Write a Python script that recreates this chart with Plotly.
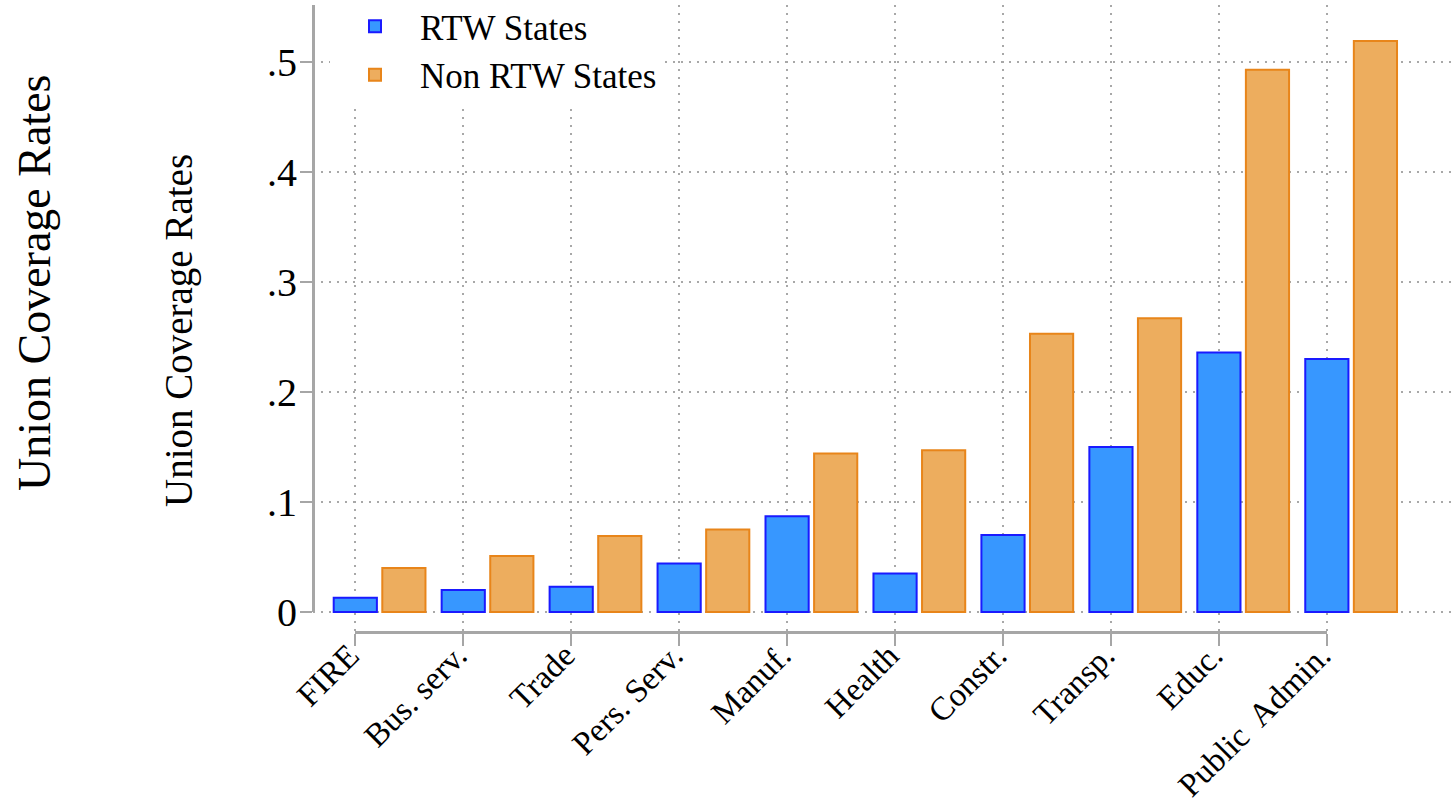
import plotly.graph_objects as go

categories = ["FIRE", "Bus. serv.", "Trade", "Pers. Serv.", "Manuf.", "Health",
              "Constr.", "Transp.", "Educ.", "Public\u00a0 Admin."]
rtw_states = [0.013, 0.020, 0.023, 0.044, 0.087, 0.035, 0.070, 0.150, 0.236, 0.230]
non_rtw_states = [0.040, 0.051, 0.069, 0.075, 0.144, 0.147, 0.253, 0.267, 0.493, 0.519]
y_tickvals = [0, 0.1, 0.2, 0.3, 0.4, 0.5]
y_ticktext = ["0", ".1", ".2", ".3", ".4", ".5"]

idx = list(range(len(categories)))
FONT = "Liberation Serif, Times New Roman, serif"

W, H = 1451, 805
L, R, T, B = 313, 0, 5, 173
plot_w = W - L - R
plot_h = H - T - B
px_per_unit_y = 1100.0
px_per_cat = 107.95
x_lo = -(355.3 - L) / px_per_cat
x_hi = x_lo + plot_w / px_per_cat
y_lo = -(632 - 612) / px_per_unit_y
y_hi = y_lo + plot_h / px_per_unit_y

fig = go.Figure()
fig.add_trace(go.Bar(
    x=idx, y=rtw_states, name="RTW States",
    width=0.4, offset=-0.2,
    marker=dict(color="#3797FF", line=dict(color="#1a1aff", width=2)),
))
fig.add_trace(go.Bar(
    x=idx, y=non_rtw_states, name="Non RTW States",
    width=0.4, offset=0.25,
    marker=dict(color="#EDAD5E", line=dict(color="#E8851A", width=2)),
))
# empty trace to host the secondary (label/line) axes
fig.add_trace(go.Scatter(x=[], y=[], xaxis="x2", yaxis="y2", showlegend=False,
                         hoverinfo="skip"))

grid_col = "#a8a8a8"
axis_col = "#a6a6a6"

x2_d0 = (355.3 - L) / plot_w
x2_d1 = x2_d0 + 9 * px_per_cat / plot_w
y2_d0 = (632 - 612) / plot_h

fig.update_layout(
    width=W, height=H,
    margin=dict(l=L, r=R, t=T, b=B, pad=0, autoexpand=False),
    paper_bgcolor="white", plot_bgcolor="rgba(0,0,0,0)",
    barmode="overlay",
    hovermode=False,
    font=dict(family=FONT, color="black"),
    showlegend=True,
    legend=dict(x=(330 - L) / plot_w, y=1.0 + 8 / plot_h, xanchor="left", yanchor="top",
                bgcolor="white", font=dict(size=35, family=FONT),
                itemwidth=80, traceorder="normal"),
    xaxis=dict(range=[x_lo, x_hi], tickmode="array", tickvals=idx, showticklabels=False,
               showgrid=True, gridcolor=grid_col, gridwidth=2, griddash="2px,6px",
               showline=False, ticks="", zeroline=False, automargin=False,
               showspikes=False),
    yaxis=dict(range=[y_lo, y_hi], tickmode="array", tickvals=y_tickvals, showticklabels=False,
               showgrid=True, gridcolor=grid_col, gridwidth=2, griddash="2px,6px",
               showline=False, ticks="", zeroline=False, automargin=False,
               showspikes=False),
    xaxis2=dict(domain=[x2_d0, x2_d1], range=[0, 9], anchor="free", position=0,
                tickmode="array", tickvals=idx, ticktext=categories, tickangle=-45,
                tickfont=dict(size=33, family=FONT, color="black"),
                ticks="outside", ticklen=12, tickwidth=2, tickcolor=axis_col,
                ticklabelstandoff=-23, ticklabelshift=-6,
                showline=True, linecolor=axis_col, linewidth=3,
                showgrid=False, zeroline=False, automargin=False),
    yaxis2=dict(domain=[y2_d0, 1], range=[0, y_hi], anchor="free", position=0,
                tickmode="array", tickvals=y_tickvals, ticktext=y_ticktext,
                tickfont=dict(size=40, family=FONT, color="black"),
                ticks="outside", ticklen=12, tickwidth=2, tickcolor=axis_col,
                ticklabelstandoff=-5,
                showline=True, linecolor=axis_col, linewidth=3,
                showgrid=False, zeroline=False, automargin=False),
    annotations=[
        dict(text="Union Coverage Rates", textangle=-90, showarrow=False,
             xref="paper", yref="paper", x=(179 - L) / plot_w, y=(632 - 331) / plot_h,
             xanchor="center", yanchor="middle", font=dict(size=39, family=FONT)),
        dict(text="Union Coverage Rates", textangle=-90, showarrow=False,
             xref="paper", yref="paper", x=(35 - L) / plot_w, y=(632 - 283) / plot_h,
             xanchor="center", yanchor="middle", font=dict(size=46, family=FONT)),
    ],
)

fig.write_html("out.html", config={"displayModeBar": False, "staticPlot": True},
               post_script="document.body.style.margin='0';")
